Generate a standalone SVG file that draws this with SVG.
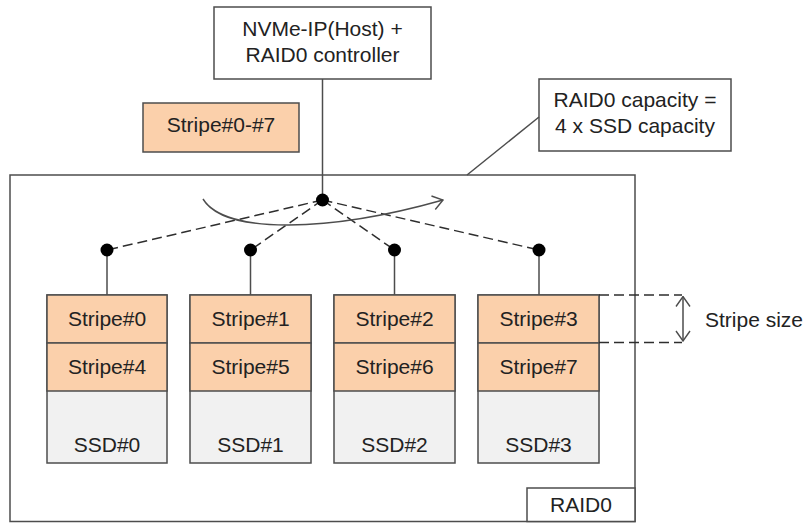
<svg xmlns="http://www.w3.org/2000/svg" width="805" height="523" viewBox="0 0 805 523">
  <defs>
    <style>
      .box { fill: #ffffff; stroke: #4d4d4d; stroke-width: 1.5; }
      .stripe { fill: #fbd0ab; stroke: #4d4d4d; stroke-width: 1.5; }
      .ssd { fill: #f1f1f1; stroke: #4d4d4d; stroke-width: 1.5; }
      .line { fill: none; stroke: #4d4d4d; stroke-width: 1.5; }
      .dash { fill: none; stroke: #2e2e2e; stroke-width: 1.5; stroke-dasharray: 10 5; }
      .dot { fill: #000000; }
      text { font-family: "Liberation Sans", Arial, sans-serif; font-size: 21px; fill: #222222; text-anchor: middle; }
      .left { text-anchor: start; }
    </style>
    <marker id="openArrow" viewBox="0 0 12 16" refX="11" refY="8" markerWidth="12" markerHeight="16" markerUnits="userSpaceOnUse" orient="auto-start-reverse">
      <path d="M1,1 L11,8 L1,15" fill="none" stroke="#4d4d4d" stroke-width="1.4"/>
    </marker>
  </defs>

  <!-- RAID0 enclosure -->
  <g id="raid0">
    <rect class="box" x="10" y="175" width="625" height="346.5"/>
    <rect class="box" x="527" y="488" width="108" height="33.5"/>
    <text x="581" y="512">RAID0</text>
  </g>

  <!-- Host controller -->
  <g id="host">
    <rect class="box" x="214" y="7" width="217" height="72"/>
    <text x="322.5" y="36">NVMe-IP(Host) +</text>
    <text x="322.5" y="62">RAID0 controller</text>
  </g>

  <!-- Incoming stripe set -->
  <g id="stripes-in">
    <rect class="stripe" x="143" y="103" width="156" height="49"/>
    <text x="221" y="132">Stripe#0-#7</text>
  </g>

  <!-- Capacity callout -->
  <g id="capacity">
    <rect class="box" x="539" y="79" width="192" height="72"/>
    <text x="635" y="107">RAID0 capacity =</text>
    <text x="635" y="133">4 x SSD capacity</text>
  </g>

  <!-- SSD columns -->
  <g id="ssd0">
    <rect class="ssd" x="47" y="295" width="120" height="168"/>
    <rect class="stripe" x="47" y="295" width="120" height="48"/>
    <rect class="stripe" x="47" y="343" width="120" height="48"/>
    <text x="107" y="326">Stripe#0</text>
    <text x="107" y="374">Stripe#4</text>
    <text x="107" y="452">SSD#0</text>
  </g>
  <g id="ssd1">
    <rect class="ssd" x="190" y="295" width="121" height="168"/>
    <rect class="stripe" x="190" y="295" width="121" height="48"/>
    <rect class="stripe" x="190" y="343" width="121" height="48"/>
    <text x="250.5" y="326">Stripe#1</text>
    <text x="250.5" y="374">Stripe#5</text>
    <text x="250.5" y="452">SSD#1</text>
  </g>
  <g id="ssd2">
    <rect class="ssd" x="334" y="295" width="121" height="168"/>
    <rect class="stripe" x="334" y="295" width="121" height="48"/>
    <rect class="stripe" x="334" y="343" width="121" height="48"/>
    <text x="394.5" y="326">Stripe#2</text>
    <text x="394.5" y="374">Stripe#6</text>
    <text x="394.5" y="452">SSD#2</text>
  </g>
  <g id="ssd3">
    <rect class="ssd" x="478" y="295" width="121" height="168"/>
    <rect class="stripe" x="478" y="295" width="121" height="48"/>
    <rect class="stripe" x="478" y="343" width="121" height="48"/>
    <text x="538.5" y="326">Stripe#3</text>
    <text x="538.5" y="374">Stripe#7</text>
    <text x="538.5" y="452">SSD#3</text>
  </g>

  <!-- Stripe size dimension -->
  <g id="stripe-size">
    <path class="dash" d="M599,295 H682 M599,342.5 H682"/>
    <line class="line" x1="683" y1="296.5" x2="683" y2="341" marker-start="url(#openArrow)" marker-end="url(#openArrow)"/>
    <text class="left" x="705" y="327">Stripe size</text>
  </g>

  <!-- Connectors -->
  <g id="connectors">
    <line class="line" x1="322.5" y1="79" x2="322.5" y2="200"/>
    <line class="line" x1="539" y1="117" x2="467" y2="175"/>
    <path class="dash" d="M322.5,200 L107,250 M322.5,200 L250.5,250 M322.5,200 L394.5,250 M322.5,200 L539,250"/>
    <path class="line" d="M107,250 V295 M250.5,250 V295 M394.5,250 V295 M539,250 V295"/>
    <path class="line" d="M203,199 C225,235 330,232 443,200" marker-end="url(#openArrow)"/>
    <circle class="dot" cx="322.5" cy="200" r="6.5"/>
    <circle class="dot" cx="107" cy="250" r="6.5"/>
    <circle class="dot" cx="250.5" cy="250" r="6.5"/>
    <circle class="dot" cx="394.5" cy="250" r="6.5"/>
    <circle class="dot" cx="539" cy="250" r="6.5"/>
  </g>
</svg>
